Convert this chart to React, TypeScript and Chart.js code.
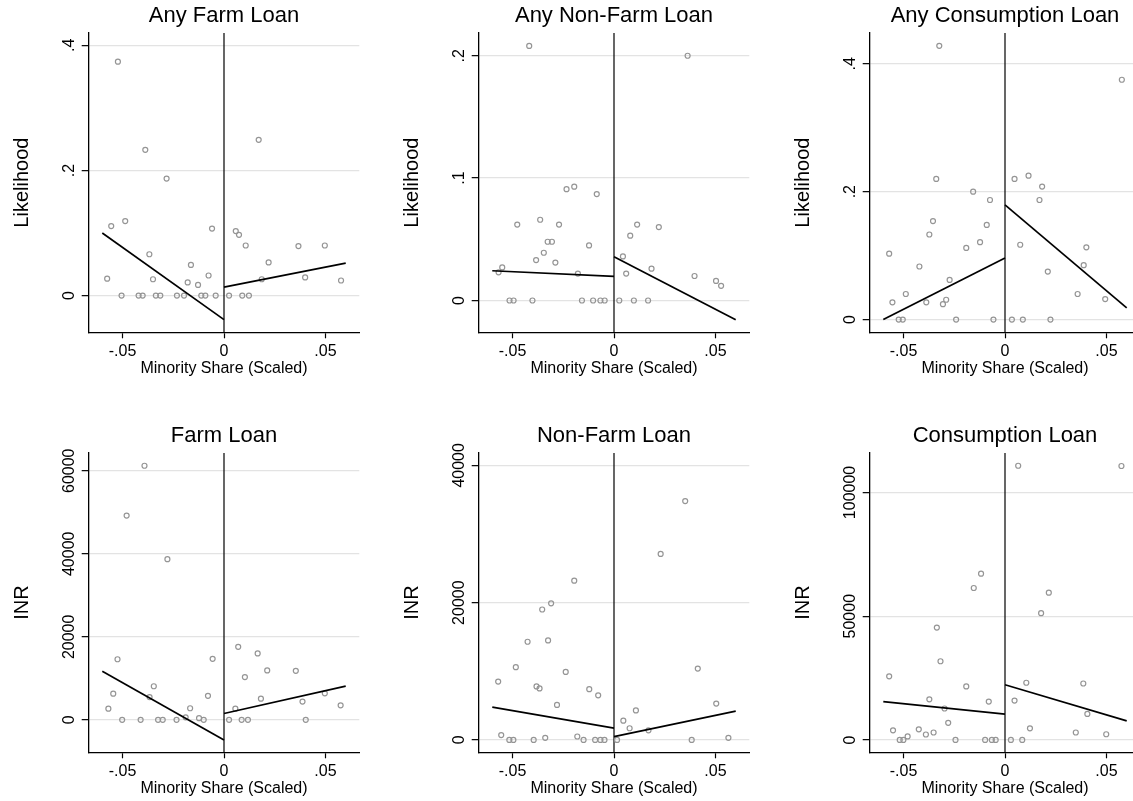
import React, { useEffect, useRef } from 'react';
import { Chart, registerables } from 'chart.js';

Chart.register(...registerables);

const FONT = "'Liberation Sans', Arial, sans-serif";

// Shared x axis
const X_RANGE = [-0.0667, 0.0667];
const X_TICKS = [-0.05, 0, 0.05];
const X_TICK_LABELS = ['-.05', '0', '.05'];
const X_TITLE = 'Minority Share (Scaled)';
const CUTOFF = 0;
const FIT_LEFT_X = [-0.06, 0];
const FIT_RIGHT_X = [0, 0.06];

// Panel 1: Any Farm Loan
const anyFarmX = [-0.0523, -0.0388, -0.0283, 0.0171, -0.0556, -0.0487, -0.0059, 0.0058, 0.0074, 0.0107, 0.0367, 0.0497, -0.0368, -0.0163, 0.022, -0.0576, -0.035, -0.0179, -0.0128, -0.0076, 0.0186, 0.04, 0.0577, -0.0505, -0.0421, -0.0401, -0.0336, -0.0314, -0.0232, -0.0197, -0.0112, -0.0092, -0.0041, 0.0025, 0.009, 0.0123];
const anyFarmY = [0.374, 0.233, 0.187, 0.249, 0.111, 0.119, 0.107, 0.103, 0.097, 0.08, 0.079, 0.08, 0.066, 0.049, 0.053, 0.027, 0.026, 0.021, 0.017, 0.032, 0.026, 0.029, 0.024, 0, 0, 0, 0, 0, 0, 0, 0, 0, 0, 0, 0, 0];
const anyFarmFitLeft = [0.1, -0.0385];
const anyFarmFitRight = [0.0134, 0.0519];
const anyFarmYRange = [-0.0588, 0.4198];
const anyFarmYTicks = [0, 0.2, 0.4];
const anyFarmYLabels = ['0', '.2', '.4'];

// Panel 2: Any Non-Farm Loan
const anyNonFarmX = [-0.0418, 0.0363, -0.0234, -0.0196, -0.0085, -0.0477, -0.0364, -0.0271, 0.0114, 0.0221, 0.008, -0.0327, -0.0306, -0.0123, -0.0346, -0.0384, -0.0289, 0.0044, -0.0551, -0.0569, -0.0178, 0.006, 0.0185, 0.0397, 0.0503, 0.0528, -0.0515, -0.0495, -0.0402, -0.0158, -0.0103, -0.0067, -0.0046, 0.0026, 0.0098, 0.0168];
const anyNonFarmY = [0.208, 0.2, 0.091, 0.093, 0.087, 0.062, 0.066, 0.062, 0.062, 0.06, 0.053, 0.048, 0.048, 0.045, 0.039, 0.033, 0.031, 0.036, 0.027, 0.023, 0.022, 0.022, 0.026, 0.02, 0.016, 0.012, 0, 0, 0, 0, 0, 0, 0, 0, 0, 0];
const anyNonFarmFitLeft = [0.0243, 0.0197];
const anyNonFarmFitRight = [0.0358, -0.0158];
const anyNonFarmYRange = [-0.026, 0.2186];
const anyNonFarmYTicks = [0, 0.1, 0.2];
const anyNonFarmYLabels = ['0', '.1', '.2'];

// Panel 3: Any Consumption Loan
const anyConsX = [-0.0324, 0.0576, -0.0339, 0.0047, 0.0116, -0.0157, 0.0183, -0.0074, 0.017, -0.0355, -0.009, -0.0373, -0.0123, 0.0075, -0.0191, 0.0401, -0.0571, -0.0422, 0.0388, 0.0211, -0.0273, -0.0489, 0.0358, -0.0555, -0.0388, -0.029, -0.0306, 0.0494, -0.0524, -0.0504, -0.0241, -0.0057, 0.0034, 0.0088, 0.0224];
const anyConsY = [0.428, 0.375, 0.22, 0.22, 0.225, 0.2, 0.208, 0.187, 0.187, 0.154, 0.148, 0.133, 0.121, 0.117, 0.112, 0.113, 0.103, 0.083, 0.085, 0.075, 0.062, 0.04, 0.04, 0.027, 0.027, 0.031, 0.024, 0.032, 0, 0, 0, 0, 0, 0, 0];
const anyConsFitLeft = [0.0, 0.0962];
const anyConsFitRight = [0.1793, 0.0183];
const anyConsYRange = [-0.0199, 0.4481];
const anyConsYTicks = [0, 0.2, 0.4];
const anyConsYLabels = ['0', '.2', '.4'];

// Panel 4: Farm Loan (INR)
const farmX = [-0.0392, -0.048, -0.0279, 0.007, 0.0166, -0.0525, -0.0056, 0.0213, 0.0354, 0.0103, -0.0346, -0.0546, -0.0079, -0.0367, 0.0182, 0.0497, 0.0387, 0.0575, -0.057, -0.0167, 0.0056, -0.0189, -0.0123, -0.0502, -0.0411, -0.0325, -0.0302, -0.0234, -0.01, 0.0025, 0.0087, 0.0118, 0.0403];
const farmY = [61200, 49200, 38700, 17600, 16000, 14600, 14700, 11900, 11800, 10300, 8100, 6300, 5800, 5500, 5100, 6400, 4400, 3500, 2700, 2800, 2700, 600, 400, 0, 0, 0, 0, 0, 0, 0, 0, 0, 0];
const farmFitLeft = [11700, -4830];
const farmFitRight = [1530, 8140];
const farmYRange = [-7813, 64277];
const farmYTicks = [0, 20000, 40000, 60000];
const farmYLabels = ['0', '20000', '40000', '60000'];

// Panel 5: Non-Farm Loan (INR)
const nonFarmX = [0.0351, 0.023, -0.0196, -0.031, -0.0354, -0.0426, -0.0325, -0.0484, 0.0413, -0.0238, -0.0571, -0.0382, -0.0367, -0.0122, -0.0078, -0.0281, 0.0504, 0.0108, 0.0046, 0.0077, 0.017, -0.0556, -0.0339, -0.0181, 0.0564, -0.0516, -0.0496, -0.0396, -0.015, -0.0093, -0.0067, -0.0047, 0.0015, 0.0383];
const nonFarmY = [34800, 27100, 23200, 19900, 19000, 14300, 14500, 10600, 10400, 9900, 8500, 7800, 7500, 7400, 6500, 5100, 5300, 4300, 2800, 1700, 1400, 700, 300, 500, 300, 0, 0, 0, 0, 0, 0, 0, 0, 0];
const nonFarmFitLeft = [4780, 1710];
const nonFarmFitRight = [490, 4190];
const nonFarmYRange = [-1803, 41802];
const nonFarmYTicks = [0, 20000, 40000];
const nonFarmYLabels = ['0', '20000', '40000'];

// Panel 6: Consumption Loan (INR)
const consX = [0.0065, 0.0574, -0.0118, -0.0154, 0.0216, 0.0178, -0.0336, -0.0318, -0.0571, 0.0105, 0.0386, -0.0191, -0.0373, -0.008, 0.0047, -0.0298, 0.0406, -0.028, -0.0552, -0.0425, 0.0123, -0.048, -0.039, -0.0352, 0.0349, 0.0499, -0.0519, -0.0501, -0.0244, -0.0098, -0.0065, -0.0046, 0.0029, 0.0085];
const consY = [110800, 110700, 67200, 61400, 59500, 51200, 45400, 31800, 25700, 23100, 22800, 21600, 16400, 15500, 15900, 12700, 10500, 6900, 3900, 4300, 4700, 1400, 2200, 3000, 3000, 2300, 0, 0, 0, 0, 0, 0, 0, 0];
const consFitLeft = [15500, 10400];
const consFitRight = [22300, 7700];
const consYRange = [-5000, 115946];
const consYTicks = [0, 50000, 100000];
const consYLabels = ['0', '50000', '100000'];

const PANELS = [
  { title: 'Any Farm Loan', yTitle: 'Likelihood', xs: anyFarmX, ys: anyFarmY, fitL: anyFarmFitLeft, fitR: anyFarmFitRight, yRange: anyFarmYRange, yTicks: anyFarmYTicks, yLabels: anyFarmYLabels, col: 0, row: 0 },
  { title: 'Any Non-Farm Loan', yTitle: 'Likelihood', xs: anyNonFarmX, ys: anyNonFarmY, fitL: anyNonFarmFitLeft, fitR: anyNonFarmFitRight, yRange: anyNonFarmYRange, yTicks: anyNonFarmYTicks, yLabels: anyNonFarmYLabels, col: 1, row: 0 },
  { title: 'Any Consumption Loan', yTitle: 'Likelihood', xs: anyConsX, ys: anyConsY, fitL: anyConsFitLeft, fitR: anyConsFitRight, yRange: anyConsYRange, yTicks: anyConsYTicks, yLabels: anyConsYLabels, col: 2, row: 0 },
  { title: 'Farm Loan', yTitle: 'INR', xs: farmX, ys: farmY, fitL: farmFitLeft, fitR: farmFitRight, yRange: farmYRange, yTicks: farmYTicks, yLabels: farmYLabels, col: 0, row: 1 },
  { title: 'Non-Farm Loan', yTitle: 'INR', xs: nonFarmX, ys: nonFarmY, fitL: nonFarmFitLeft, fitR: nonFarmFitRight, yRange: nonFarmYRange, yTicks: nonFarmYTicks, yLabels: nonFarmYLabels, col: 1, row: 1 },
  { title: 'Consumption Loan', yTitle: 'INR', xs: consX, ys: consY, fitL: consFitLeft, fitR: consFitRight, yRange: consYRange, yTicks: consYTicks, yLabels: consYLabels, col: 2, row: 1 },
];

const CANVAS_W = 390;
const CANVAS_H = 420;
const COL_LEFT = [0, 390, 781];
const ROW_TOP = [0, 420];

const xlinePlugin = {
  id: 'xline',
  beforeDatasetsDraw(chart: any) {
    const { ctx, chartArea, scales } = chart;
    const x = scales.x.getPixelForValue(CUTOFF);
    ctx.save();
    ctx.strokeStyle = '#000';
    ctx.lineWidth = 1.2;
    ctx.beginPath();
    ctx.moveTo(x, chartArea.top);
    ctx.lineTo(x, chartArea.bottom);
    ctx.stroke();
    ctx.restore();
  },
};

function Panel({ cfg }: { cfg: any }) {
  const ref = useRef<HTMLCanvasElement | null>(null);
  useEffect(() => {
    if (!ref.current) return;
    const yLabelPlugin = {
      id: 'ylabels',
      afterDraw(chart: any) {
        const { ctx, chartArea, scales } = chart;
        const ys = scales.y;
        ctx.save();
        ctx.fillStyle = '#000';
        ctx.font = `16px ${FONT}`;
        ctx.textAlign = 'center';
        ctx.textBaseline = 'alphabetic';
        cfg.yTicks.forEach((v: number, i: number) => {
          const py = ys.getPixelForValue(v);
          ctx.save();
          ctx.translate(chartArea.left - 15, py);
          ctx.rotate(-Math.PI / 2);
          ctx.fillText(cfg.yLabels[i], 0, 0);
          ctx.restore();
        });
        ctx.restore();
      },
    };
    const chart = new Chart(ref.current, {
      type: 'scatter',
      data: {
        datasets: [
          {
            type: 'line',
            data: FIT_LEFT_X.map((x, i) => ({ x, y: cfg.fitL[i] })),
            borderColor: '#000',
            borderWidth: 1.7,
            pointRadius: 0,
            fill: false,
            order: 1,
          } as any,
          {
            type: 'line',
            data: FIT_RIGHT_X.map((x, i) => ({ x, y: cfg.fitR[i] })),
            borderColor: '#000',
            borderWidth: 1.7,
            pointRadius: 0,
            fill: false,
            order: 1,
          } as any,
          {
            type: 'scatter',
            data: cfg.xs.map((x: number, i: number) => ({ x, y: cfg.ys[i] })),
            pointStyle: 'circle',
            pointRadius: 2.5,
            pointBorderWidth: 1.2,
            pointBorderColor: '#959595',
            pointBackgroundColor: 'rgba(0,0,0,0)',
            borderColor: '#959595',
            backgroundColor: 'rgba(0,0,0,0)',
            order: 2,
          } as any,
        ],
      },
      options: {
        responsive: false,
        animation: false,
        devicePixelRatio: 1,
        layout: { padding: { left: 0, right: 30.7, top: 0, bottom: 0 } },
        plugins: {
          legend: { display: false },
          tooltip: { enabled: false },
          title: {
            display: true,
            text: cfg.title,
            fullSize: false,
            color: '#000',
            font: { family: FONT, size: 22, weight: 'normal', lineHeight: 1.2 },
            padding: { top: 2.5, bottom: 4.1 },
          },
        },
        scales: {
          x: {
            type: 'linear',
            position: 'bottom',
            min: X_RANGE[0],
            max: X_RANGE[1],
            afterBuildTicks: (s: any) => {
              s.ticks = X_TICKS.map((v) => ({ value: v }));
            },
            afterFit: (s: any) => {
              s.height = 87.7;
            },
            ticks: {
              callback: (_v: any, i: number) => X_TICK_LABELS[i],
              font: { family: FONT, size: 16 },
              color: '#000',
              padding: 4,
              autoSkip: false,
              maxRotation: 0,
            },
            grid: { drawOnChartArea: false, drawTicks: true, tickLength: 6, tickColor: '#000', tickWidth: 1.2 },
            border: { display: true, color: '#000', width: 1.3 },
            title: {
              display: true,
              text: X_TITLE,
              color: '#000',
              font: { family: FONT, size: 16, lineHeight: 1.2 },
              padding: { top: 0, bottom: 41.4 },
            },
          },
          y: {
            type: 'linear',
            position: 'left',
            min: cfg.yRange[0],
            max: cfg.yRange[1],
            afterBuildTicks: (s: any) => {
              s.ticks = cfg.yTicks.map((v: number) => ({ value: v }));
            },
            afterFit: (s: any) => {
              s.width = 88.7;
            },
            ticks: { display: false },
            grid: { color: '#e3e3e3', lineWidth: 1.3, drawTicks: true, tickLength: 7, tickColor: '#000', tickWidth: 1.2 },
            border: { display: true, color: '#000', width: 1.3 },
            title: {
              display: true,
              text: cfg.yTitle,
              color: '#000',
              font: { family: FONT, size: 20, lineHeight: 1.2 },
              padding: { top: 10.3, bottom: 0 },
            },
          },
        },
      } as any,
      plugins: [xlinePlugin, yLabelPlugin] as any,
    });
    return () => chart.destroy();
  }, [cfg]);
  return (
    <canvas
      ref={ref}
      width={CANVAS_W}
      height={CANVAS_H}
      style={{ position: 'absolute', left: COL_LEFT[cfg.col], top: ROW_TOP[cfg.row], display: 'block' }}
    />
  );
}

export default function App() {
  return (
    <div style={{ position: 'fixed', left: 0, top: 0, width: 1133, height: 801, overflow: 'hidden', background: '#fff' }}>
      {PANELS.map((p) => (
        <Panel key={p.title} cfg={p} />
      ))}
    </div>
  );
}
